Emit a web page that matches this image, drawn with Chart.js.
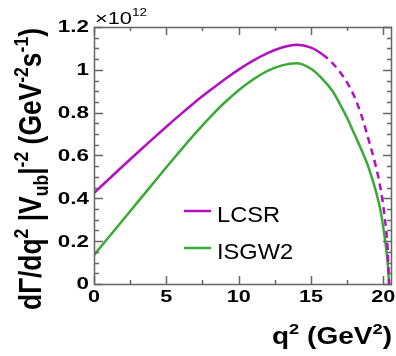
<!DOCTYPE html>
<html>
<head>
<meta charset="utf-8">
<script src="https://cdn.jsdelivr.net/npm/chart.js@4/dist/chart.umd.min.js"></script>
<style>
html, body { margin: 0; padding: 0; background: #fff; }
</style>
</head>
<body>
<canvas id="myChart" width="396" height="356"></canvas>
<script>
// q^2 grid (GeV^2) and dGamma/dq2 |Vub|^-2 in units of 1e12
const q2    = [0, 1, 2, 3, 4, 5, 6, 7, 8, 9, 10, 11, 12, 13, 14, 15, 15.8, 16.5, 17, 17.5, 18, 18.5, 19, 19.5, 19.8, 20.1, 20.3, 20.4];
const lcsr  = [0.425, 0.488, 0.551, 0.613, 0.674, 0.734, 0.793, 0.850, 0.903, 0.954, 1.001, 1.043, 1.078, 1.104, 1.117, 1.104, 1.072, 1.030, 0.990, 0.940, 0.875, 0.785, 0.670, 0.545, 0.450, 0.310, 0.160, 0.0];
const isgw2 = [0.135, 0.217, 0.299, 0.381, 0.463, 0.545, 0.625, 0.703, 0.777, 0.845, 0.905, 0.955, 0.995, 1.021, 1.031, 1.005, 0.957, 0.900, 0.840, 0.775, 0.700, 0.625, 0.540, 0.430, 0.345, 0.215, 0.100, 0.0];
const dashFrom = 15.8; // LCSR drawn dashed beyond this q^2

const seriesNames = ['LCSR', 'ISGW2'];
const xTicks  = [0, 5, 10, 15, 20];
const xLabels = ['0', '5', '10', '15', '20'];
const yTicks  = [0, 0.2, 0.4, 0.6, 0.8, 1, 1.2];
const yLabels = ['0', '0.2', '0.4', '0.6', '0.8', '1', '1.2'];

const MAGENTA = '#b20fc2';
const GREEN = '#3aa935';
const AXIS = '#666666';
const FAM = '"Liberation Sans", Arial, Helvetica, sans-serif';

// text with super/subscripts, optionally squeezed to a width and rotated
function rich(ctx, parts, size, weight, x, y, opt) {
  const f = p => weight + ' ' + (p[1] === 'n' ? size : Math.round(size * 0.65)) + 'px ' + FAM;
  let w = 0;
  parts.forEach(p => { ctx.font = f(p); w += ctx.measureText(p[0]).width; });
  const sx = opt.width ? opt.width / w : (opt.sx || 1);
  ctx.save();
  ctx.translate(x, y);
  if (opt.rot) ctx.rotate(-Math.PI / 2);
  ctx.scale(sx, opt.sy || 1);
  let cx = opt.align === 'right' ? -w : opt.align === 'center' ? -w / 2 : 0;
  ctx.textAlign = 'left';
  ctx.textBaseline = opt.baseline || 'alphabetic';
  ctx.fillStyle = '#000';
  parts.forEach(p => {
    ctx.font = f(p);
    const dy = p[1] === 'sup' ? -size * (opt.supUp || 0.42) : p[1] === 'sub' ? size * 0.22 : 0;
    ctx.fillText(p[0], cx, dy);
    cx += ctx.measureText(p[0]).width;
  });
  ctx.restore();
}

const frame = {
  id: 'frame',
  afterDraw(chart) {
    const ctx = chart.ctx;
    const a = chart.chartArea;
    const xs = chart.scales.x, ys = chart.scales.y;
    ctx.save();
    ctx.strokeStyle = AXIS;
    ctx.lineWidth = 1.5;
    ctx.strokeRect(a.left + 0.5, a.top + 0.5, a.right - a.left - 1, a.bottom - a.top);

    // inward ticks on all four sides (minor every 2.5 / 0.05)
    ctx.beginPath();
    for (let i = 0; i * 2.5 <= xs.max; i++) {
      const px = Math.round(xs.getPixelForValue(i * 2.5)) + 0.5;
      const len = i % 2 === 0 ? 8 : 4;
      ctx.moveTo(px, a.bottom); ctx.lineTo(px, a.bottom - len);
      ctx.moveTo(px, a.top); ctx.lineTo(px, a.top + len);
    }
    for (let i = 0; i <= 24; i++) {
      const py = Math.round(ys.getPixelForValue(i * 0.05)) + 0.5;
      const len = i % 4 === 0 ? 9 : 5;
      ctx.moveTo(a.left, py); ctx.lineTo(a.left + len, py);
      ctx.moveTo(a.right, py); ctx.lineTo(a.right - len, py);
    }
    ctx.stroke();
    ctx.restore();

    // tick labels from the scales' ticks
    xs.ticks.forEach((t, i) => {
      rich(ctx, [[xLabels[i], 'n']], 16, 'bold', xs.getPixelForValue(t.value), 298,
        { align: 'center', sx: 1.35, baseline: 'middle' });
    });
    ys.ticks.forEach((t, i) => {
      rich(ctx, [[yLabels[i], 'n']], 16, 'bold', 89, ys.getPixelForValue(t.value) + 1,
        { align: 'right', sx: 1.4, baseline: 'middle' });
    });

    // exponent
    rich(ctx, [['\u00d710', 'n'], ['12', 'sup']], 16, 'normal', 95, 24, { width: 52, supUp: 0.5 });

    // axis titles
    rich(ctx, [['q', 'n'], ['2', 'sup'], [' (GeV', 'n'], ['2', 'sup'], [')', 'n']], 23, 'bold',
      392, 344, { align: 'right', width: 120 });
    rich(ctx, [['d\u0393/dq', 'n'], ['2', 'sup'], [' |V', 'n'], ['ub', 'sub'], ['|', 'n'], ['-2', 'sup'],
      [' (GeV', 'n'], ['-2', 'sup'], ['s', 'n'], ['-1', 'sup'], [')', 'n']], 27, 'bold',
      41, 169, { align: 'center', width: 282, sy: 1.15, rot: true });

    // legend
    const leg = [[MAGENTA, 211, 222, 63], [GREEN, 248, 259, 76]];
    leg.forEach((l, i) => {
      ctx.save();
      ctx.strokeStyle = l[0];
      ctx.lineWidth = 2.5;
      ctx.beginPath();
      ctx.moveTo(184, l[1]); ctx.lineTo(211, l[1]);
      ctx.stroke();
      ctx.restore();
      rich(ctx, [[seriesNames[i], 'n']], 22, 'normal', 217, l[2], { width: l[3] });
    });
  }
};

const ctx = document.getElementById('myChart').getContext('2d');
const myChart = new Chart(ctx, {
  type: 'line',
  data: {
    datasets: [{
      label: seriesNames[0],
      data: q2.map((x, i) => ({ x: x, y: lcsr[i] })),
      borderColor: MAGENTA,
      borderWidth: 2.5,
      pointRadius: 0,
      cubicInterpolationMode: 'monotone',
      segment: {
        borderDash: c => c.p0.parsed.x >= dashFrom ? [7, 5] : undefined
      }
    }, {
      label: seriesNames[1],
      data: q2.map((x, i) => ({ x: x, y: isgw2[i] })),
      borderColor: GREEN,
      borderWidth: 2.5,
      pointRadius: 0,
      cubicInterpolationMode: 'monotone'
    }]
  },
  options: {
    responsive: false,
    devicePixelRatio: 1,
    animation: false,
    layout: { padding: { top: 27, right: 4, left: 0, bottom: 0 } },
    plugins: {
      legend: { display: false },
      tooltip: { enabled: false }
    },
    scales: {
      x: {
        type: 'linear',
        min: 0,
        max: 20.6,
        afterBuildTicks: s => { s.ticks = xTicks.map(v => ({ value: v })); },
        afterFit: s => { s.height = 72; },
        ticks: { display: false },
        grid: { display: false },
        border: { display: false }
      },
      y: {
        min: 0,
        max: 1.2,
        afterBuildTicks: s => { s.ticks = yTicks.map(v => ({ value: v })); },
        afterFit: s => { s.width = 94; },
        ticks: { display: false },
        grid: { display: false },
        border: { display: false }
      }
    }
  },
  plugins: [frame]
});
</script>
</body>
</html>
